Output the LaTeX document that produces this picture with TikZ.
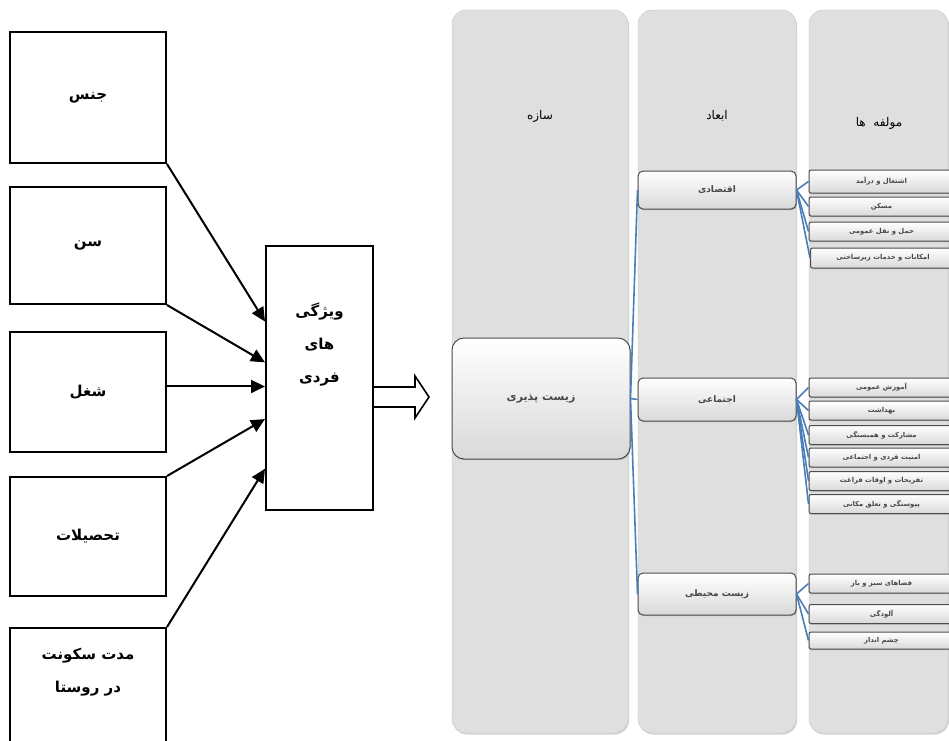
\documentclass[tikz,border=0pt]{standalone}
\usepackage{fontspec}
\usepackage{tikz}
\usetikzlibrary{arrows.meta,shadows}
\TeXXeTstate=1
\newfontfamily\farsi[Script=Arabic]{DejaVu Sans}
\newcommand{\prs}[1]{\beginR #1\endR}
\definecolor{linkblue}{RGB}{74,126,187}
\definecolor{panelgray}{RGB}{223,223,223}

\begin{document}
\begin{tikzpicture}[x=1pt,y=-1pt,
  inbox/.style={draw,line width=2pt,minimum width=156pt,inner sep=0pt},
  intext/.style={font=\farsi\bfseries\fontsize{15}{33}\selectfont,align=center},
  inarrow/.style={line width=2pt,-{Triangle[length=14pt,width=13pt]}},
  panel/.style={rounded corners=14pt,fill=panelgray,draw=gray!45,drop shadow={shadow xshift=1pt,shadow yshift=-1.5pt,opacity=0.35}},
  header/.style={font=\farsi\fontsize{12}{14}\selectfont},
  glossy/.style={draw=black!70,line width=1pt,top color=white,bottom color=gray!30,text=black!72,inner sep=0pt,drop shadow={shadow xshift=0.8pt,shadow yshift=-1.2pt,opacity=0.4}},
  rootbox/.style={glossy,rounded corners=12pt,minimum width=178pt,minimum height=121pt,font=\farsi\bfseries\fontsize{11}{13}\selectfont},
  dimbox/.style={glossy,rounded corners=5pt,minimum width=158pt,font=\farsi\bfseries\fontsize{9}{11}\selectfont},
  itembox/.style={glossy,rounded corners=2pt,minimum width=145pt,minimum height=19pt,font=\farsi\bfseries\fontsize{6.8}{8}\selectfont},
  link/.style={linkblue,line width=1.6pt}]
\path[use as bounding box] (0,0) rectangle (949,740);
\clip (0,0) rectangle (949,740);

\node[inbox,minimum height=131pt] (sex) at (88,97.5) {};
\node[intext] (sextext) at (sex.center) {\prs{جنس}};
\node[inbox,minimum height=117pt] (age) at (88,245.5) {};
\node[intext] (agetext) at (age.center) {\prs{سن}};
\node[inbox,minimum height=120pt] (job) at (88,392) {};
\node[intext] (jobtext) at (job.center) {\prs{شغل}};
\node[inbox,minimum height=119pt] (edu) at (88,536.5) {};
\node[intext] (edutext) at (edu.center) {\prs{تحصیلات}};
\node[inbox,minimum height=124pt] (res) at (88,690) {};
\node[intext] (restext) at (88,672) {\prs{مدت سکونت}\\ \prs{در روستا}};

\node[draw,line width=2pt,minimum width=107pt,minimum height=264pt] (feat) at (319.5,378) {};
\node[intext] (feattext) at ([yshift=34pt]feat.center) {\prs{ویژگی}\\ \prs{های}\\ \prs{فردی}};

\draw[inarrow] (sex.south east) -- (feat.134);
\draw[inarrow] (age.south east) -- (feat.164);
\draw[inarrow] (job.4) -- (job.4 -| feat.west);
\draw[inarrow] (edu.north east) -- (feat.217);
\draw[inarrow] (res.north east) -- (feat.239);
\draw[line width=1.6pt,line join=miter] (feat.east |- 0,387) -- ++(41,0) -- ++(0,-11) -- ++(14,21) -- ++(-14,21) -- ++(0,-11) -- (feat.east |- 0,407);

\path[panel] (452,10) rectangle (628,733);
\path[panel] (638,10) rectangle (796,733);
\path[panel] (809,10) rectangle (948,733);
\node[header] (hconstruct) at (540,116) {\prs{سازه}};
\node[header] (hdimension) at (717,116) {\prs{ابعاد}};
\node[header] (hcomponent) at (879,123) {\prs{مولفه~~ها}};

\node[rootbox] (root) at (541,398.5) {\prs{زیست پذیری}};
\node[dimbox,minimum height=38pt] (eco) at (717,190) {\prs{اقتصادی}};
\node[dimbox,minimum height=43pt] (soc) at (717,399.5) {\prs{اجتماعی}};
\node[dimbox,minimum height=42pt] (env) at (717,594) {\prs{زیست محیطی}};

\node[itembox,minimum height=23pt] (eco1) at (881.5,181.5) {\prs{اشتغال و درآمد}};
\node[itembox] (eco2) at (881.5,206.5) {\prs{مسکن}};
\node[itembox] (eco3) at (881.5,231.5) {\prs{حمل و نقل عمومی}};
\node[itembox,minimum height=20pt] (eco4) at (883,258) {\prs{امکانات و خدمات زیرساختی}};
\node[itembox] (soc1) at (881.5,387.5) {\prs{آموزش عمومی}};
\node[itembox] (soc2) at (881.5,410.5) {\prs{بهداشت}};
\node[itembox] (soc3) at (881.5,435) {\prs{مشارکت و همبستگی}};
\node[itembox] (soc4) at (881.5,457.5) {\prs{امنیت فردی و اجتماعی}};
\node[itembox] (soc5) at (881.5,481) {\prs{تفریحات و اوقات فراغت}};
\node[itembox] (soc6) at (881.5,504) {\prs{پیوستگی و تعلق مکانی}};
\node[itembox] (env1) at (881.5,583.5) {\prs{فضاهای سبز و باز}};
\node[itembox] (env2) at (881.5,614) {\prs{آلودگی}};
\node[itembox,minimum height=17pt] (env3) at (881.5,640.5) {\prs{چشم انداز}};

\draw[link] (root.east) -- (eco.west);
\draw[link] (root.east) -- (soc.west);
\draw[link] (root.east) -- (env.west);
\foreach \i in {1,...,4} \draw[link] (eco.east) -- (eco\i.west);
\foreach \i in {1,...,6} \draw[link] (soc.east) -- (soc\i.west);
\foreach \i in {1,...,3} \draw[link] (env.east) -- (env\i.west);
\end{tikzpicture}
\end{document}
